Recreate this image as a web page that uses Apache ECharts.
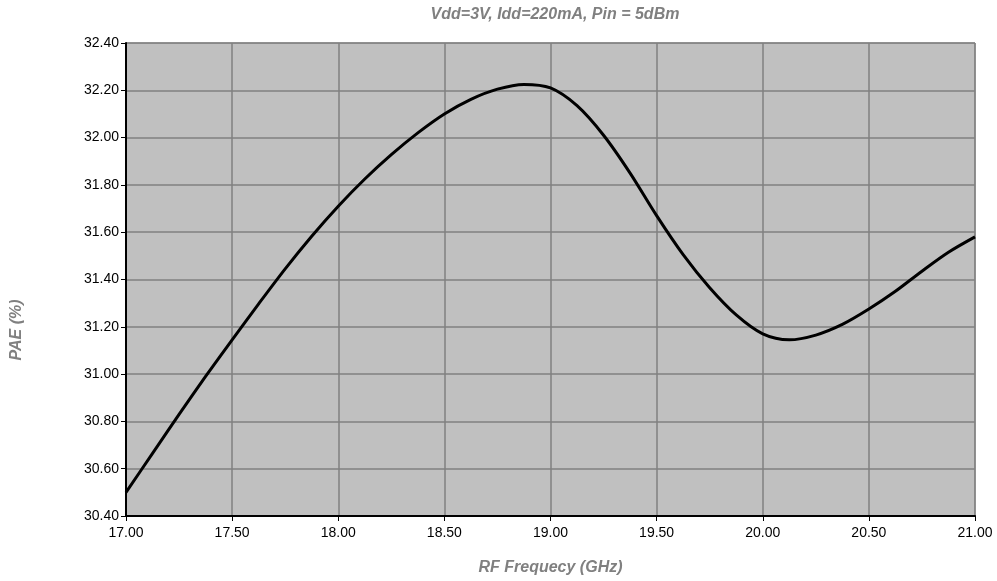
<!DOCTYPE html>
<html>
<head>
<meta charset="utf-8">
<script src="https://cdn.jsdelivr.net/npm/echarts@6/dist/echarts.min.js"></script>
<style>
  html, body { margin: 0; padding: 0; background: #fff; }
  #chart { width: 997px; height: 581px; }
</style>
</head>
<body>
<div id="chart"></div>
<script>
// frequency points (GHz) and PAE values (%)
var freqs = [17.0, 17.125, 17.25, 17.375, 17.5, 17.625, 17.75, 17.875, 18.0, 18.125, 18.25, 18.375, 18.5, 18.625, 18.75, 18.875,
             19.0, 19.125, 19.25, 19.375, 19.5, 19.625, 19.75, 19.875, 20.0, 20.125, 20.25, 20.375, 20.5, 20.625, 20.75, 20.875, 21.0];
var pae   = [30.50, 30.665, 30.83, 30.99, 31.145, 31.297, 31.445, 31.583, 31.71, 31.825, 31.928, 32.02, 32.10, 32.162, 32.205, 32.225,
             32.21, 32.135, 32.01, 31.85, 31.67, 31.505, 31.365, 31.25, 31.17, 31.145, 31.165, 31.21, 31.275, 31.35, 31.435, 31.515, 31.58];

var chartTitle = 'Vdd=3V, Idd=220mA, Pin = 5dBm';
var xName = 'RF Frequecy (GHz)';
var yName = 'PAE (%)';

var chart = echarts.init(document.getElementById('chart'));

var seriesData = [];
for (var i = 0; i < freqs.length; i++) {
    seriesData.push([freqs[i], pae[i]]);
}

var nameStyle = {
    color: '#808080',
    fontFamily: 'Liberation Sans',
    fontSize: 16,
    fontWeight: 'bold',
    fontStyle: 'italic'
};

var option = {
    animation: false,
    title: {
        text: chartTitle,
        left: 550,
        top: 2,
        textAlign: 'center',
        textStyle: nameStyle
    },
    grid: {
        left: 126,
        right: 22,
        top: 43,
        bottom: 60,
        show: true,
        backgroundColor: '#c0c0c0',
        borderColor: '#808080',
        borderWidth: 1
    },
    xAxis: {
        type: 'value',
        min: 17,
        max: 21,
        interval: 0.5,
        name: xName,
        nameLocation: 'middle',
        nameGap: 44,
        nameTextStyle: nameStyle,
        axisLine: { onZero: false, lineStyle: { color: '#000', width: 2 } },
        axisTick: { show: true, length: 5, lineStyle: { color: '#000' } },
        axisLabel: {
            color: '#000',
            fontFamily: 'Liberation Sans',
            fontSize: 14,
            margin: 10,
            formatter: function (v) { return v.toFixed(2); }
        },
        splitLine: { show: true, lineStyle: { color: '#808080', width: 1.5 } }
    },
    yAxis: {
        type: 'value',
        min: 30.4,
        max: 32.4,
        interval: 0.2,
        axisLine: { show: true, onZero: false, lineStyle: { color: '#000', width: 2 } },
        axisTick: { show: true, length: 5, lineStyle: { color: '#000' } },
        axisLabel: {
            color: '#000',
            fontFamily: 'Liberation Sans',
            fontSize: 14,
            margin: 7,
            formatter: function (v) { return v.toFixed(2); }
        },
        splitLine: { show: true, lineStyle: { color: '#808080', width: 1.5 } }
    },
    graphic: [{
        type: 'text',
        x: 17,
        y: 330,
        rotation: Math.PI / 2,
        style: {
            text: yName,
            fill: '#808080',
            font: 'italic bold 16px "Liberation Sans"',
            textAlign: 'center',
            textVerticalAlign: 'middle'
        }
    }],
    series: [{
        type: 'line',
        data: seriesData,
        smooth: 0.3,
        showSymbol: false,
        lineStyle: { color: '#000', width: 3 }
    }]
};

chart.setOption(option);
</script>
</body>
</html>
